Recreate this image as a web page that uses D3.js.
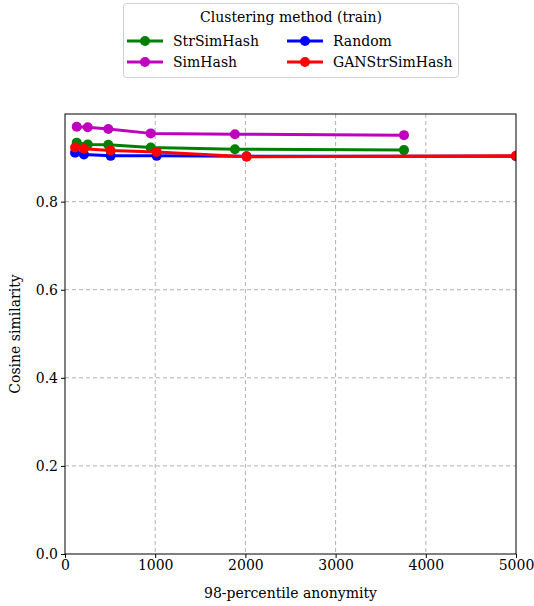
<!DOCTYPE html>
<html>
<head>
<meta charset="utf-8">
<script src="https://cdn.jsdelivr.net/npm/d3@7"></script>
<style>
  body { margin: 0; background: #fff; }
  svg text { font-family: "DejaVu Serif", serif; }
</style>
</head>
<body>
<div id="chart"></div>
<script>
// data
const seriesNames = ["StrSimHash", "SimHash", "Random", "GANStrSimHash"];
const seriesColors = ["#008000", "#bf00bf", "#0000ff", "#ff0000"];

const strSimHashX = [130, 252, 480, 950, 1884, 3758];
const strSimHashY = [0.934, 0.930, 0.929, 0.923, 0.919, 0.917];

const simHashX = [130, 252, 480, 950, 1884, 3758];
const simHashY = [0.970, 0.969, 0.965, 0.955, 0.953, 0.951];

const randomX = [111, 210, 506, 1016, 2013, 5000];
const randomY = [0.911, 0.907, 0.904, 0.904, 0.903, 0.903];

const ganX = [111, 210, 506, 1016, 2013, 5000];
const ganY = [0.923, 0.920, 0.916, 0.913, 0.902, 0.904];

const xTicks = [0, 1000, 2000, 3000, 4000, 5000];
const yTicks = [0.0, 0.2, 0.4, 0.6, 0.8];

const allX = [strSimHashX, simHashX, randomX, ganX];
const allY = [strSimHashY, simHashY, randomY, ganY];

const series = seriesNames.map((name, i) => ({
    name: name,
    color: seriesColors[i],
    points: allX[i].map((x, j) => ({x: x, y: allY[i][j]}))
}));

const W = 534, H = 606;
const margin = {top: 114, right: 18, bottom: 52, left: 65};
const width = W - margin.left - margin.right;
const height = H - margin.top - margin.bottom;
const fs = 14;

const svg = d3.select("#chart").append("svg")
    .attr("width", W)
    .attr("height", H);

const g = svg.append("g")
    .attr("transform", `translate(${margin.left},${margin.top})`);

const x = d3.scaleLinear().domain([0, 5000]).range([0, width]);
const y = d3.scaleLinear().domain([0, 0.999]).range([height, 0]);

// grid
g.append("g")
    .selectAll("line")
    .data(xTicks.slice(1, -1))
    .enter().append("line")
    .attr("x1", d => x(d)).attr("x2", d => x(d))
    .attr("y1", 0).attr("y2", height)
    .attr("stroke", "#b0b0b0")
    .attr("stroke-width", 1)
    .attr("stroke-dasharray", "4,3");

g.append("g")
    .selectAll("line")
    .data(yTicks.slice(1))
    .enter().append("line")
    .attr("x1", 0).attr("x2", width)
    .attr("y1", d => y(d)).attr("y2", d => y(d))
    .attr("stroke", "#b0b0b0")
    .attr("stroke-width", 1)
    .attr("stroke-dasharray", "4,3");

// clip
svg.append("defs").append("clipPath").attr("id", "clip")
    .append("rect").attr("width", width).attr("height", height);

const plot = g.append("g").attr("clip-path", "url(#clip)");

const line = d3.line().x(d => x(d.x)).y(d => y(d.y));

series.forEach(s => {
    plot.append("path")
        .datum(s.points)
        .attr("fill", "none")
        .attr("stroke", s.color)
        .attr("stroke-width", 3)
        .attr("stroke-linejoin", "round")
        .attr("d", line);
    plot.selectAll(null)
        .data(s.points)
        .enter().append("circle")
        .attr("cx", d => x(d.x))
        .attr("cy", d => y(d.y))
        .attr("r", 5)
        .attr("fill", s.color);
});

// frame
g.append("rect")
    .attr("width", width).attr("height", height)
    .attr("fill", "none").attr("stroke", "#000").attr("stroke-width", 1);

// axes
const xAxis = d3.axisBottom(x).tickValues(xTicks).tickFormat(d3.format("d")).tickSize(4).tickPadding(2);
const yAxis = d3.axisLeft(y).tickValues(yTicks).tickFormat(d3.format(".1f")).tickSize(4).tickPadding(3);

const xg = g.append("g").attr("transform", `translate(0,${height})`).call(xAxis);
const yg = g.append("g").call(yAxis);
[xg, yg].forEach(a => {
    a.attr("font-family", null);
    a.select(".domain").remove();
    a.selectAll("text").attr("font-size", fs).attr("fill", "#000");
});

g.append("text")
    .attr("x", width / 2).attr("y", height + 44)
    .attr("text-anchor", "middle").attr("font-size", fs)
    .text("98-percentile anonymity");

g.append("text")
    .attr("transform", `translate(${-45},${height / 2}) rotate(-90)`)
    .attr("text-anchor", "middle").attr("font-size", fs)
    .text("Cosine similarity");

// legend
const legend = svg.append("g");
legend.append("rect")
    .attr("x", 123.5).attr("y", 3.5).attr("width", 335).attr("height", 74)
    .attr("rx", 3)
    .attr("fill", "#fff").attr("stroke", "#d0d0d0");
legend.append("text")
    .attr("x", 291).attr("y", 22)
    .attr("text-anchor", "middle").attr("font-size", fs)
    .text("Clustering method (train)");

const cols = [127, 287];
const rows = [41, 62];
series.forEach((s, i) => {
    const cx = cols[Math.floor(i / 2)];
    const cy = rows[i % 2];
    legend.append("line")
        .attr("x1", cx).attr("x2", cx + 36)
        .attr("y1", cy).attr("y2", cy)
        .attr("stroke", s.color).attr("stroke-width", 3);
    legend.append("circle")
        .attr("cx", cx + 18).attr("cy", cy).attr("r", 5).attr("fill", s.color);
    legend.append("text")
        .attr("x", cx + 46).attr("y", cy + 5)
        .attr("font-size", fs)
        .text(s.name);
});
</script>
</body>
</html>
